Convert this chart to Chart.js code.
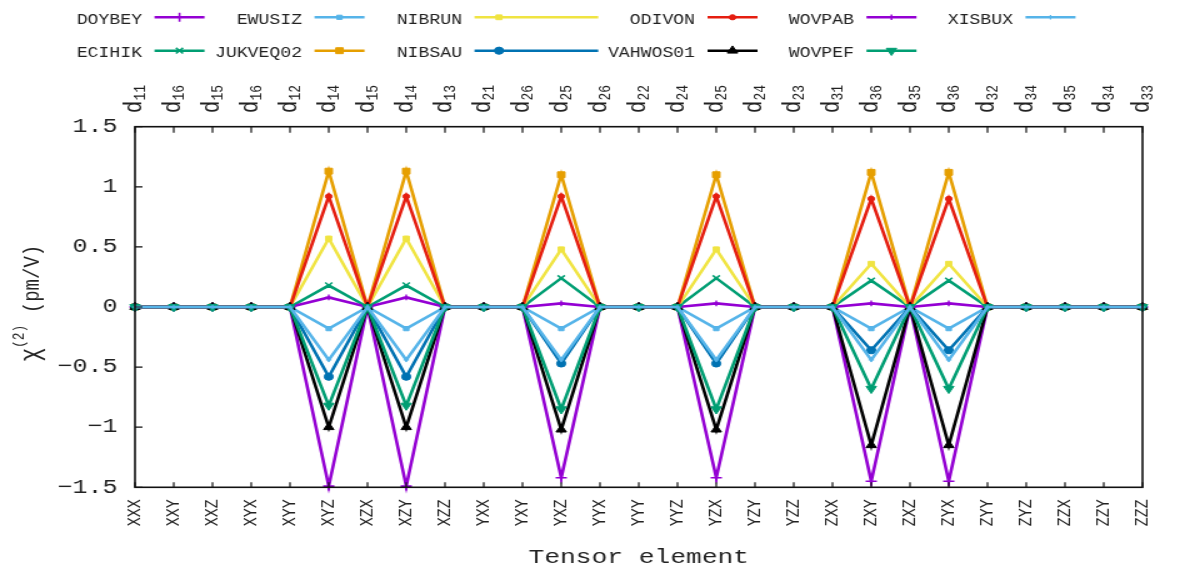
<!DOCTYPE html>
<html><head><meta charset="utf-8">
<script src="https://cdn.jsdelivr.net/npm/chart.js@4"></script>
<style>
html,body{margin:0;padding:0;background:#fff;overflow:hidden}
#wrap{position:absolute;left:0;top:0;width:944px;height:568px;transform:scaleX(1.25);transform-origin:0 0}
</style></head>
<body><div id="wrap"><canvas id="c" width="944" height="568"></canvas></div>
<script>
const categories = ['XXX','XXY','XXZ','XYX','XYY','XYZ','XZX','XZY','XZZ','YXX','YXY','YXZ','YYX','YYY','YYZ','YZX','YZY','YZZ','ZXX','ZXY','ZXZ','ZYX','ZYY','ZYZ','ZZX','ZZY','ZZZ'];
const topSubscripts = ['11','16','15','16','12','14','15','14','13','21','26','25','26','22','24','25','24','23','31','36','35','36','32','34','35','34','33'];

const DOYBEY   = [0,0,0,0,0,-1.49,0,-1.49,0,0,0,-1.42,0,0,0,-1.42,0,0,0,-1.45,0,-1.45,0,0,0,0,0];
const ECIHIK   = [0,0,0,0,0,0.18,0,0.18,0,0,0,0.24,0,0,0,0.24,0,0,0,0.22,0,0.22,0,0,0,0,0];
const EWUSIZ   = [0,0,0,0,0,-0.18,0,-0.18,0,0,0,-0.18,0,0,0,-0.18,0,0,0,-0.18,0,-0.18,0,0,0,0,0];
const JUKVEQ02 = [0,0,0,0,0,1.13,0,1.13,0,0,0,1.10,0,0,0,1.10,0,0,0,1.12,0,1.12,0,0,0,0,0];
const NIBRUN   = [0,0,0,0,0,0.57,0,0.57,0,0,0,0.48,0,0,0,0.48,0,0,0,0.36,0,0.36,0,0,0,0,0];
const NIBSAU   = [0,0,0,0,0,-0.58,0,-0.58,0,0,0,-0.47,0,0,0,-0.47,0,0,0,-0.36,0,-0.36,0,0,0,0,0];
const ODIVON   = [0,0,0,0,0,0.92,0,0.92,0,0,0,0.92,0,0,0,0.92,0,0,0,0.90,0,0.90,0,0,0,0,0];
const VAHWOS01 = [0,0,0,0,0,-1.00,0,-1.00,0,0,0,-1.02,0,0,0,-1.02,0,0,0,-1.15,0,-1.15,0,0,0,0,0];
const WOVPAB   = [0,0,0,0,0,0.08,0,0.08,0,0,0,0.03,0,0,0,0.03,0,0,0,0.03,0,0.03,0,0,0,0,0];
const WOVPEF   = [0,0,0,0,0,-0.82,0,-0.82,0,0,0,-0.85,0,0,0,-0.85,0,0,0,-0.68,0,-0.68,0,0,0,0,0];
const XISBUX   = [0,0,0,0,0,-0.44,0,-0.44,0,0,0,-0.44,0,0,0,-0.44,0,0,0,-0.44,0,-0.44,0,0,0,0,0];

const seriesNames  = ['DOYBEY','ECIHIK','EWUSIZ','JUKVEQ02','NIBRUN','NIBSAU','ODIVON','VAHWOS01','WOVPAB','WOVPEF','XISBUX'];
const seriesValues = [DOYBEY, ECIHIK, EWUSIZ, JUKVEQ02, NIBRUN, NIBSAU, ODIVON, VAHWOS01, WOVPAB, WOVPEF, XISBUX];
const seriesColors = ['#9400d3','#009e73','#56b4e9','#e69f00','#f0e442','#0072b2','#e51e10','#000000','#9400d3','#009e73','#56b4e9'];
const seriesMarkers = [
  {style:'cross', r:4.5, rot:0, bw:1.6},
  {style:'crossRot', r:4, rot:0, bw:1.6},
  {style:'rect', r:3, rot:0, bw:1},
  {style:'rect', r:4.2, rot:0, bw:1},
  {style:'rect', r:3.4, rot:0, bw:1},
  {style:'circle', r:3.6, rot:0, bw:1},
  {style:'circle', r:2.6, rot:0, bw:1},
  {style:'triangle', r:4.8, rot:0, bw:1},
  {style:'cross', r:2.8, rot:0, bw:1.4},
  {style:'triangle', r:4.8, rot:180, bw:1},
  {style:'cross', r:2.2, rot:0, bw:1.2}
];

const FONT = "'Liberation Mono', 'DejaVu Sans Mono', monospace";
const TXT = '#222';

const datasets = seriesNames.map((n, i) => ({
  label: n,
  data: seriesValues[i],
  borderColor: seriesColors[i],
  backgroundColor: seriesColors[i],
  pointBackgroundColor: seriesColors[i],
  pointBorderColor: seriesColors[i],
  borderWidth: 2.6,
  pointStyle: seriesMarkers[i].style,
  pointRadius: seriesMarkers[i].r,
  pointRotation: seriesMarkers[i].rot,
  pointBorderWidth: seriesMarkers[i].bw,
  pointHoverRadius: seriesMarkers[i].r,
  tension: 0,
  fill: false,
  clip: false,
  order: -i
}));

const framePlugin = {
  id: 'frame',
  afterDraw(chart) {
    const {ctx, chartArea: a, scales} = chart;
    ctx.save();
    ctx.strokeStyle = '#111';
    ctx.lineWidth = 1.2;
    ctx.beginPath();
    scales.y.ticks.forEach(t => {
      const y = scales.y.getPixelForValue(t.value);
      ctx.moveTo(a.left, y); ctx.lineTo(a.left + 6, y);
    });
    categories.forEach((c, i) => {
      const x = scales.x.getPixelForValue(i);
      ctx.moveTo(x, a.top); ctx.lineTo(x, a.top + 6);
      ctx.moveTo(x, a.bottom); ctx.lineTo(x, a.bottom - 5);
    });
    ctx.stroke();
    ctx.lineWidth = 1.6;
    ctx.strokeRect(a.left, a.top, a.right - a.left, a.bottom - a.top);
    ctx.restore();
  }
};

const labelsPlugin = {
  id: 'extraLabels',
  afterDraw(chart) {
    const {ctx, chartArea: a, scales} = chart;
    ctx.save();
    ctx.fillStyle = TXT;
    ctx.textAlign = 'left';
    ctx.textBaseline = 'alphabetic';
    // top axis labels d_ij
    topSubscripts.forEach((s, i) => {
      const x = scales.x.getPixelForValue(i);
      ctx.save();
      ctx.translate(x + 4.8, a.top - 13.5);
      ctx.rotate(-Math.PI / 2);
      ctx.font = '21px ' + FONT;
      ctx.fillText('d', 0, 0);
      const w = ctx.measureText('d').width;
      ctx.font = '13px ' + FONT;
      ctx.fillText(s, w, 3.4);
      ctx.restore();
    });
    // y axis title  chi^(2) (pm/V)
    const parts = [{t:'\u03c7', size:22, rise:0}, {t:'(2)', size:13, rise:12}, {t:' (pm/V)', size:19, rise:0}];
    let total = 0;
    parts.forEach(p => { ctx.font = p.size + 'px ' + FONT; p.w = ctx.measureText(p.t).width; total += p.w; });
    ctx.save();
    ctx.translate(31, 303 + total / 2);
    ctx.rotate(-Math.PI / 2);
    let cx = 0;
    parts.forEach(p => { ctx.font = p.size + 'px ' + FONT; ctx.fillText(p.t, cx, -p.rise); cx += p.w; });
    ctx.restore();
    ctx.restore();
  }
};

const legendTextEnds = [113.6, 241.6, 369.6, 556, 683.2, 810.4];
const legendPlugin = {
  id: 'keyBox',
  afterDraw(chart) {
    const {ctx} = chart;
    const H = Chart.helpers;
    ctx.save();
    chart.data.datasets.forEach((ds, i) => {
      const col = Math.floor(i / 2), row = i % 2;
      const te = legendTextEnds[col];
      const ly = row === 0 ? 17.3 : 50.7;
      const ty = row === 0 ? 24 : 56.7;
      ctx.font = '14.5px ' + FONT;
      ctx.fillStyle = TXT;
      ctx.textAlign = 'right';
      ctx.textBaseline = 'alphabetic';
      ctx.fillText(ds.label, te, ty);
      const x0 = te + 10;
      const len = col === 2 ? 99 : 40;
      const mx = x0 + (col === 2 ? 19.6 : 20);
      ctx.strokeStyle = ds.borderColor;
      ctx.lineWidth = 2.6;
      ctx.beginPath(); ctx.moveTo(x0, ly); ctx.lineTo(x0 + len, ly); ctx.stroke();
      ctx.fillStyle = ds.pointBackgroundColor;
      ctx.strokeStyle = ds.pointBorderColor;
      ctx.lineWidth = ds.pointBorderWidth;
      if (H && H.drawPoint) {
        H.drawPoint(ctx, {pointStyle: ds.pointStyle, radius: ds.pointRadius, rotation: ds.pointRotation, borderWidth: ds.pointBorderWidth}, mx, ly);
      } else {
        ctx.beginPath(); ctx.arc(mx, ly, ds.pointRadius, 0, Math.PI * 2); ctx.fill();
      }
    });
    ctx.restore();
  }
};

new Chart(document.getElementById('c'), {
  type: 'line',
  data: { labels: categories, datasets },
  options: {
    responsive: false,
    animation: false,
    devicePixelRatio: 1,
    layout: { padding: { top: 126.7, right: 15.4, left: 0, bottom: 0 } },
    plugins: { legend: { display: false }, tooltip: { enabled: false } },
    scales: {
      x: {
        type: 'category',
        offset: false,
        grid: { display: false, drawTicks: false },
        border: { display: false },
        ticks: { autoSkip: false, minRotation: 90, maxRotation: 90, padding: 12, color: TXT, font: { family: FONT, size: 15 } },
        title: { display: true, text: 'Tensor element', color: TXT, font: { family: FONT, size: 21, lineHeight: 1 }, padding: 0 },
        afterFit: s => { s.height = 80.7; }
      },
      y: {
        min: -1.5, max: 1.5,
        grid: { display: false, drawTicks: false },
        border: { display: false },
        ticks: { stepSize: 0.5, padding: 14, color: TXT, font: { family: FONT, size: 20 },
          callback: v => (v < 0 ? '\u2212' : '') + String(Math.abs(Math.round(v * 10) / 10)) },
        afterFit: s => { s.width = 108; }
      }
    }
  },
  plugins: [framePlugin, labelsPlugin, legendPlugin]
});
</script>
</body></html>
